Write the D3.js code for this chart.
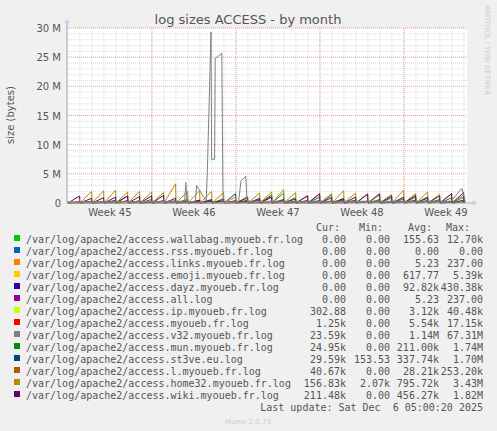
<!DOCTYPE html>
<html><head><meta charset="utf-8">
<script src="https://cdn.jsdelivr.net/npm/d3@7"></script>
<style>body{margin:0;background:#f0f0f0}</style></head>
<body><svg id="c" width="497" height="431"></svg>
<script>
const days = d3.range(0, 33);
const home32 = [0.3,2.0,2.1,2.2,1.9,2.0,1.9,1.8,3.3,2.0,2.1,2.0,1.8,1.0,1.1,1.7,1.9,2.3,1.8,1.3,1.5,1.6,2.1,1.7,1.6,1.4,1.5,2.2,1.6,1.9,1.5,1.6,1.4];
const wiki   = [1.2,0.8,0.9,1.0,1.2,1.1,1.2,1.3,0.8,0.6,0.5,0.6,0.7,0.4,0.9,0.8,1.0,0.6,0.7,1.2,1.6,0.9,0.7,1.0,1.5,1.6,1.2,1.0,1.3,1.0,1.2,1.6,1.8];
const mun    = [0.2,0.3,0.2,0.5,0.3,0.4,0.6,0.3,0.4,0.3,0.5,0.4,0.4,0.3,0.5,0.6,1.4,1.7,0.9,0.4,1.0,1.3,0.8,0.5,0.3,0.6,0.9,0.7,1.0,0.8,0.6,0.9,1.0];
const st3ve  = [0.1,0.2,0.3,0.2,1.2,0.3,0.2,0.4,0.2,0.3,0.2,0.3,0.4,1.6,0.3,0.5,1.1,0.4,0.3,0.4,0.2,0.3,0.5,0.4,0.3,0.4,0.2,0.3,0.5,0.3,0.4,0.3,0.5];
const lmy    = [0,0,0,0,0,0,0,0,0,0,0,0,0,0,0,0,0,0,0,0,0,0,0,0.2,0.2,0.2,0.2,0.2,0.2,0.2,0.2,0.2,0.2];
const dayz   = [0.1,0.2,0.1,0.3,0.4,0.2,0.1,0.2,0.3,0.1,0.2,0.4,0.3,0.1,0.2,0.1,0.2,0.3,0.1,0.2,0.4,0.3,0.2,0.1,0.3,0.2,0.1,0.2,0.3,0.4,0.2,0.1,0.2];
const v32X = [0,9.8,9.9,10.0,10.7,10.8,11.6,11.7,12.0,12.05,12.3,12.35,12.5,12.9,13.0,14.3,14.5,14.9,15.0,32.0,32.9,33.2];
const v32Y = [0.2,0.3,3.5,0.2,0.3,3.0,0.3,5.8,29.3,7.5,7.5,24.8,25.0,25.7,0.1,0.3,3.8,4.6,0.3,0.3,2.5,0.2];
const yTicks = [0,5,10,15,20,25,30];
const weekLabels = ["Week 45","Week 46","Week 47","Week 48","Week 49"];
const weekCenters = [3.5,10.5,17.5,24.5,31.5].map(d=>d+0.08);
const weekBounds = [7.08,14.08,21.08,28.08];
const legNames = ["/var/log/apache2/access.wallabag.myoueb.fr.log","/var/log/apache2/access.rss.myoueb.fr.log","/var/log/apache2/access.links.myoueb.fr.log","/var/log/apache2/access.emoji.myoueb.fr.log","/var/log/apache2/access.dayz.myoueb.fr.log","/var/log/apache2/access.all.log","/var/log/apache2/access.ip.myoueb.fr.log","/var/log/apache2/access.myoueb.fr.log","/var/log/apache2/access.v32.myoueb.fr.log","/var/log/apache2/access.mun.myoueb.fr.log","/var/log/apache2/access.st3ve.eu.log","/var/log/apache2/access.l.myoueb.fr.log","/var/log/apache2/access.home32.myoueb.fr.log","/var/log/apache2/access.wiki.myoueb.fr.log"];
const legColors = ["#00CC00","#0066B3","#FF8000","#FFCC00","#330099","#990099","#CCFF00","#FF0000","#808080","#008F00","#00487D","#B35A00","#B38F00","#6B006B"];
const cur = ["0.00","0.00","0.00","0.00","0.00","0.00","302.88","1.25k","23.59k","24.95k","29.59k","40.67k","156.83k","211.48k"];
const mn  = ["0.00","0.00","0.00","0.00","0.00","0.00","0.00","0.00","0.00","0.00","153.53","0.00","2.07k","0.00"];
const avg = ["155.63","0.00","5.23","617.77","92.82k","5.23","3.12k","5.54k","1.14M","211.00k","337.74k","28.21k","795.72k","456.27k"];
const mx  = ["12.70k","0.00","237.00","5.39k","430.38k","237.00","40.48k","17.15k","67.31M","1.74M","1.70M","253.20k","3.43M","1.82M"];

const svg = d3.select("#c");
const L=67,R=467,T=28,B=203;
const x = d3.scaleLinear().domain([0,33.33]).range([L,R]);
const y = d3.scaleLinear().domain([0,30]).range([B,T]);
svg.append("rect").attr("x",L).attr("y",T).attr("width",R-L).attr("height",B-T).attr("fill","#fff");
const g = svg.append("g");
for(let v=1;v<30;v++) if(v%5) g.append("line").attr("x1",L).attr("x2",R).attr("y1",y(v)).attr("y2",y(v)).attr("stroke","#ddd").attr("stroke-dasharray","1,1");
for(let d=0.08;d<33.3;d+=1) g.append("line").attr("x1",x(d)).attr("x2",x(d)).attr("y1",T).attr("y2",B).attr("stroke","#ddd").attr("stroke-dasharray","1,1");
yTicks.forEach(v=>g.append("line").attr("x1",L).attr("x2",R).attr("y1",y(v)).attr("y2",y(v)).attr("stroke","#e8a0a0").attr("stroke-dasharray","1,1"));
weekBounds.forEach(d=>g.append("line").attr("x1",x(d)).attr("x2",x(d)).attr("y1",T).attr("y2",B).attr("stroke","#e8a0a0").attr("stroke-dasharray","1,1"));
svg.append("line").attr("x1",L).attr("x2",R+6).attr("y1",B).attr("y2",B).attr("stroke","#aaa");
svg.append("line").attr("x1",L).attr("x2",L).attr("y1",B).attr("y2",T-6).attr("stroke","#aaa");
svg.append("path").attr("d",`M${R+6},${B-3}L${R+10},${B}L${R+6},${B+3}Z`).attr("fill","#ccf");
svg.append("path").attr("d",`M${L-3},${T-5}L${L},${T-9}L${L+3},${T-5}Z`).attr("fill","#ccf");
yTicks.forEach(v=>svg.append("text").attr("x",L-6).attr("y",y(v)+4).attr("text-anchor","end").attr("font-family","DejaVu Sans").attr("font-size",10).attr("fill","#555").text(v===0?"0":v+" M"));
weekLabels.forEach((t,i)=>svg.append("text").attr("x",x(weekCenters[i])).attr("y",B+13).attr("text-anchor","middle").attr("font-family","DejaVu Sans").attr("font-size",10).attr("fill","#555").text(t));
const line = d3.line().x(d=>x(d[0])).y(d=>y(d[1]));
function saw(arr){const pts=[];arr.forEach((p,i)=>{pts.push([days[i]+0.08,0]);pts.push([days[i]+1.05,p]);});pts.push([33.08,0]);return pts;}
[[dayz,"#330099"],[lmy,"#B35A00"],[st3ve,"#00487D"],[mun,"#008F00"],[home32,"#B38F00"],[wiki,"#6B006B"]].forEach(([a,c])=>
  g.append("path").attr("d",line(saw(a))).attr("fill","none").attr("stroke",c).attr("stroke-width",1));
g.append("path").attr("d",line(v32X.map((d,i)=>[d,v32Y[i]]))).attr("fill","none").attr("stroke","#808080").attr("stroke-width",1);
svg.append("text").attr("x",248).attr("y",24).attr("text-anchor","middle").attr("font-family","DejaVu Sans").attr("font-size",13).attr("fill","#555").text("log sizes ACCESS - by month");
svg.append("text").attr("transform","translate(14,115) rotate(-90)").attr("text-anchor","middle").attr("font-family","DejaVu Sans").attr("font-size",10).attr("fill","#555").text("size (bytes)");
svg.append("text").attr("transform","translate(485,5) rotate(90)").attr("font-family","DejaVu Sans").attr("font-size",7).attr("fill","#ccc").text("RRDTOOL / TOBI OETIKER");
const mono = "DejaVu Sans Mono";
const hy=231;
[["Cur:",340],["Min:",383],["Avg:",432],["Max:",470]].forEach(([t,xx])=>svg.append("text").attr("x",xx).attr("y",hy).attr("text-anchor","end").attr("font-family",mono).attr("font-size",10).attr("fill","#555").text(t));
legNames.forEach((n,i)=>{
  const yy=hy+12+i*12;
  svg.append("rect").attr("x",14).attr("y",yy-8).attr("width",6).attr("height",6).attr("fill",legColors[i]);
  svg.append("text").attr("x",26).attr("y",yy).attr("font-family",mono).attr("font-size",10).attr("fill","#555").text(n);
  [[cur,346],[mn,390],[avg,439],[mx,483]].forEach(([a,xx])=>svg.append("text").attr("x",xx).attr("y",yy).attr("text-anchor","end").attr("font-family",mono).attr("font-size",10).attr("fill","#555").text(a[i]));
});
svg.append("text").attr("x",483).attr("y",hy+12+14*12).attr("text-anchor","end").style("white-space","pre").attr("font-family",mono).attr("font-size",10).attr("fill","#555").text("Last update: Sat Dec  6 05:00:20 2025");
svg.append("text").attr("x",248).attr("y",424).attr("text-anchor","middle").attr("font-family","DejaVu Sans").attr("font-size",7).attr("fill","#ccc").text("Munin 2.0.73");
</script></body></html>
